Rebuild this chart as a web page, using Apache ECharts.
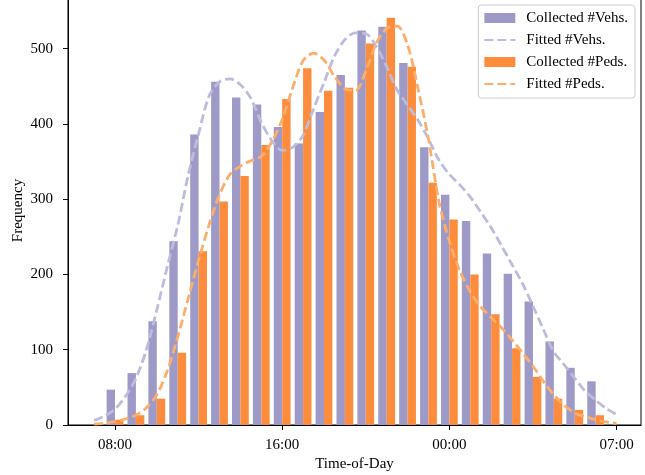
<!DOCTYPE html>
<html>
<head>
<meta charset="utf-8">
<script src="https://cdn.jsdelivr.net/npm/echarts@6/dist/echarts.min.js"></script>
<style>html,body{margin:0;padding:0;background:#fff}#c{width:645px;height:475px}</style>
</head>
<body>
<div id="c"></div>
<script>
// hourly bin index (0 = 08:00)
const binIndex = [0,1,2,3,4,5,6,7,8,9,10,11,12,13,14,15,16,17,18,19,20,21,22,23];
const vehCounts = [47, 69, 138, 244, 386, 456, 435, 426, 396, 374, 416, 465, 524, 529, 481, 369, 306, 271, 228, 201, 164, 111, 76, 58];
const pedCounts = [7, 13, 35, 96, 231, 297, 331, 372, 433, 474, 444, 448, 507, 541, 476, 322, 273, 200, 147, 102, 64, 35, 20, 13];

const fitX = [-1,-0.5,0,0.5,1,1.5,2,2.5,3,3.5,4,4.5,5,5.5,6,6.5,7,7.5,8,8.5,9,9.5,10,10.5,11,11.5,12,12.5,13,13.5,14,14.5,15,15.5,16,16.5,17,17.5,18,18.5,19,19.5,20,20.5,21,21.5,22,22.5,23,23.5,24];
const vehFit = [6,12,21,38,62,100,153,210,265,332,387,437,456,460,452,434,402,378,365,369,385,420,455,490,512,521,520,503,476,445,425,405,380,352,333,319,303,283,262,238,213,188,158,127,97,80,62,45,33,22,14];
const pedFit = [1.2,2.5,4.5,8,13,23,40,72,117,168,219,266,306,333,344,351,357,376,406,448,484,494,485,463,447,444,470,507,527,530,505,447,380,297,244,205,177,157,143,129,113,96,78,58,40,26,16,11,7,4,2];

const tickPos = [0, 8, 16, 24];
const tickLabels = ['08:00', '16:00', '00:00', '07:00'];
const yTicks = [0, 100, 200, 300, 400, 500];

const FONT = 'Liberation Serif';
const chart = echarts.init(document.getElementById('c'), null, {renderer: 'canvas'});

const pairs = (xs, ys) => xs.map((x, i) => [x, ys[i]]);
const hiddenMarker = {color: 'rgba(0,0,0,0)', borderColor: 'rgba(0,0,0,0)', borderWidth: 0};

chart.setOption({
  animation: false,
  textStyle: {fontFamily: FONT},
  grid: {left: 68, right: 4, top: -4, bottom: 50, show: true, borderColor: '#000', borderWidth: 1,
    containLabel: false, outerBoundsMode: 'none'},
  legend: {
    orient: 'vertical', right: 10, top: 5,
    padding: [5, 7, 6, 5],
    itemWidth: 31, itemHeight: 10, itemGap: 6,
    backgroundColor: 'rgba(255,255,255,0.85)',
    borderColor: '#cccccc', borderWidth: 1, borderRadius: 3,
    textStyle: {fontFamily: FONT, fontSize: 15, color: '#000', lineHeight: 16, padding: [0,0,0,6]},
    data: [
      {name: 'Collected #Vehs.', icon: 'rect'},
      {name: 'Fitted #Vehs.', itemStyle: hiddenMarker},
      {name: 'Collected #Peds.', icon: 'rect'},
      {name: 'Fitted #Peds.', itemStyle: hiddenMarker}
    ]
  },
  xAxis: {
    type: 'value', min: -2.25, max: 25.17,
    name: 'Time-of-Day', nameLocation: 'middle', nameGap: 32, nameMoveOverlap: false,
    nameTextStyle: {fontFamily: FONT, fontSize: 15, color: '#000'},
    axisLine: {show: true, onZero: false, lineStyle: {color: '#000', width: 1}},
    axisTick: {show: true, length: 5, lineStyle: {color: '#000'}, customValues: tickPos},
    axisLabel: {fontFamily: FONT, fontSize: 15, color: '#000', margin: 13, customValues: tickPos,
      formatter: v => tickLabels[tickPos.indexOf(v)] || ''},
    splitLine: {show: false}
  },
  yAxis: {
    type: 'value', min: 0, max: 570,
    name: 'Frequency', nameLocation: 'middle', nameGap: 42, nameMoveOverlap: false,
    nameTextStyle: {fontFamily: FONT, fontSize: 15, color: '#000'},
    axisLine: {show: true, onZero: false, lineStyle: {color: '#000', width: 1}},
    axisTick: {show: true, length: 5, lineStyle: {color: '#000'}, customValues: yTicks},
    axisLabel: {fontFamily: FONT, fontSize: 15, color: '#000', margin: 15, customValues: yTicks},
    splitLine: {show: false}
  },
  series: [
    {name: 'Collected #Vehs.', type: 'bar', data: pairs(binIndex, vehCounts), barWidth: 8.4, barGap: '0%',
      itemStyle: {color: '#9e9ac8'}, z: 1},
    {name: 'Fitted #Vehs.', type: 'line', data: pairs(fitX, vehFit), smooth: 0.3, symbol: 'none', showSymbol: false,
      lineStyle: {color: '#bcbddc', width: 2.8, type: [9, 4]}, itemStyle: {color: '#bcbddc'}, z: 3},
    {name: 'Collected #Peds.', type: 'bar', data: pairs(binIndex, pedCounts), barWidth: 8.4, barGap: '0%',
      itemStyle: {color: '#fd8d3c'}, z: 1},
    {name: 'Fitted #Peds.', type: 'line', data: pairs(fitX, pedFit), smooth: 0.3, symbol: 'none', showSymbol: false,
      lineStyle: {color: '#fdae6b', width: 2.8, type: [9, 4]}, itemStyle: {color: '#fdae6b'}, z: 4}
  ]
});
</script>
</body>
</html>
